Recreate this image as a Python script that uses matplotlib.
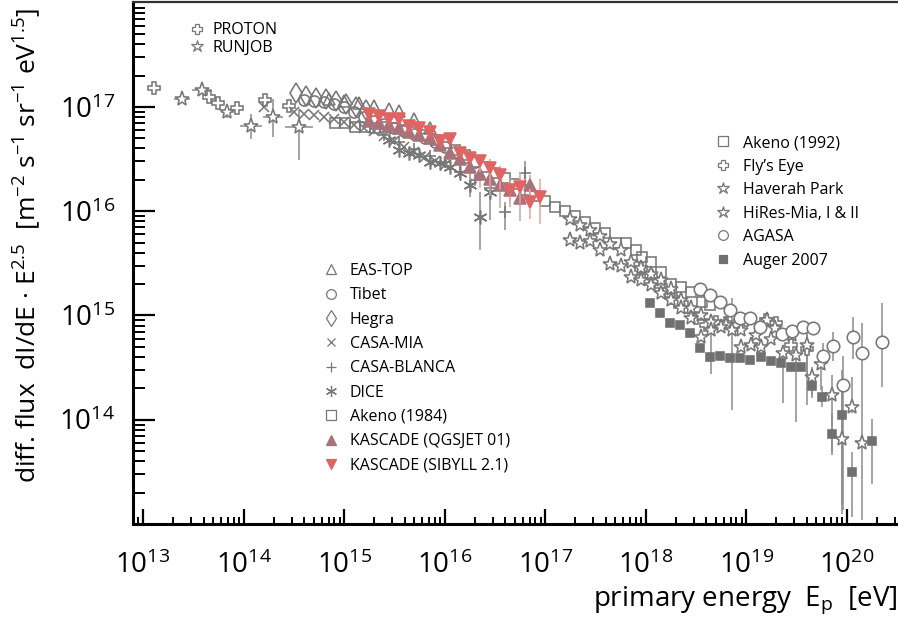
import numpy as np
import matplotlib
matplotlib.use("Agg")
import matplotlib.pyplot as plt
from matplotlib.lines import Line2D
from matplotlib.ticker import LogLocator, NullFormatter

plt.rcParams["font.family"] = ["Open Sans", "DejaVu Sans"]
plt.rcParams["mathtext.fontset"] = "custom"
plt.rcParams["mathtext.rm"] = "Open Sans"
plt.rcParams["mathtext.it"] = "Open Sans:italic"

# all values as log10(E / eV) and log10(flux * E^2.5); errors in decades
proton_lgE = [13.11, 13.66, 13.75, 13.93, 14.21, 14.45]
proton_lgF = [17.18, 17.10, 17.04, 16.99, 17.07, 17.01]

runjob_lgE = [13.39, 13.59, 13.84, 14.07, 14.29, 14.55]
runjob_lgF = [17.08, 17.16, 16.95, 16.82, 16.90, 16.81]
runjob_dn = [0.03, 0.03, 0.06, 0.13, 0.19, 0.32]
runjob_up = [0.03, 0.03, 0.05, 0.11, 0.18, 0.16]
runjob_dx = [0.08, 0.10, 0.06, 0.11, 0.10, 0.14]

eastop_lgE = [14.85, 15.0, 15.15, 15.3, 15.45, 15.55, 15.7, 15.85]
eastop_lgF = [17.08, 17.06, 17.04, 17.01, 16.98, 16.96, 16.88, 16.80]

tibet_lgE = [14.6, 14.7, 14.8, 14.9, 15.0, 15.1, 15.2, 15.3, 15.4,
             15.5, 15.6, 15.7, 15.8, 15.9, 16.0, 16.1, 16.2, 16.3]
tibet_lgF = [17.07, 17.06, 17.05, 17.03, 17.00, 16.95, 16.90, 16.87, 16.84,
             16.80, 16.77, 16.74, 16.70, 16.66, 16.62, 16.57, 16.52, 16.47]

hegra_lgE = [14.52, 14.62, 14.72, 14.82, 14.92, 15.02, 15.12, 15.22]
hegra_lgF = [17.13, 17.11, 17.09, 17.08, 17.06, 17.03, 17.00, 16.97]

casamia_lgE = [14.2, 14.5, 14.6, 14.7, 14.8, 14.9, 15.0, 15.1, 15.2,
               15.3, 15.4, 15.5, 15.6, 15.7, 15.8, 15.9, 16.0]
casamia_lgF = [17.0, 16.95, 16.93, 16.92, 16.90, 16.88, 16.86, 16.83, 16.80,
               16.77, 16.72, 16.67, 16.62, 16.57, 16.52, 16.48, 16.44]

casablanca_lgE = [15.4, 15.55, 15.7, 15.85, 16.0, 16.15, 16.3, 16.45, 16.6, 16.8]
casablanca_lgF = [16.73, 16.66, 16.60, 16.53, 16.47, 16.38, 16.30, 16.22, 15.99, 16.37]
casablanca_dn = [0, 0, 0, 0, 0, 0, 0, 0.06, 0.17, 0.26]
casablanca_up = [0, 0, 0, 0, 0, 0, 0, 0.06, 0.10, 0.11]

dice_lgE = [15.45, 15.55, 15.65, 15.75, 15.85, 15.95, 16.05, 16.15, 16.25, 16.35, 16.45]
dice_lgF = [16.68, 16.59, 16.56, 16.54, 16.47, 16.46, 16.42, 16.37, 16.25, 15.94, 16.18]
dice_dn = [0, 0, 0, 0, 0, 0, 0, 0, 0.11, 0.31, 0.26]
dice_up = [0, 0, 0, 0, 0, 0, 0, 0, 0.11, 0.24, 0.12]

akeno84_lgE = [14.91, 15.01, 15.11, 15.21, 15.31, 15.41, 15.51, 15.61, 15.71, 15.81, 15.91,
               16.01, 16.10, 16.20, 16.30, 16.40, 16.50, 16.60, 16.70, 16.80, 16.90, 17.00]
akeno84_lgF = [16.85, 16.85, 16.81, 16.81, 16.80, 16.81, 16.80, 16.78, 16.76, 16.73, 16.68,
               16.65, 16.59, 16.54, 16.47, 16.42, 16.37, 16.32, 16.26, 16.20, 16.15, 16.10]

kq_lgE = [15.25, 15.35, 15.45, 15.55, 15.65, 15.75, 15.85, 15.95, 16.05,
          16.15, 16.25, 16.35, 16.45, 16.55, 16.65, 16.75, 16.85]
kq_lgF = [16.87, 16.85, 16.83, 16.80, 16.76, 16.73, 16.70, 16.64, 16.56,
          16.50, 16.42, 16.36, 16.31, 16.25, 16.20, 16.13, 16.25]
kq_dn = [0, 0, 0, 0, 0, 0, 0, 0, 0.05, 0.07, 0.12, 0.14, 0.16, 0.22, 0.16, 0.22, 0.14]
kq_up = [0, 0, 0, 0, 0, 0, 0, 0, 0.05, 0.06, 0.08, 0.10, 0.12, 0.18, 0.12, 0.14, 0.10]

ks_lgE = [15.25, 15.35, 15.45, 15.55, 15.65, 15.75, 15.85, 15.95, 16.05,
          16.15, 16.25, 16.35, 16.45, 16.55, 16.65, 16.75, 16.85, 16.95]
ks_lgF = [16.93, 16.91, 16.88, 16.88, 16.82, 16.80, 16.76, 16.67, 16.69,
          16.56, 16.51, 16.48, 16.41, 16.35, 16.20, 16.23, 16.09, 16.14]
ks_dn = [0, 0, 0, 0, 0, 0, 0, 0, 0, 0.04, 0.06, 0.10, 0.17, 0.15, 0.10, 0.16, 0.16, 0.26]
ks_up = [0, 0, 0, 0, 0, 0, 0, 0, 0, 0.04, 0.05, 0.06, 0.09, 0.08, 0.08, 0.15, 0.12, 0.17]

akeno92_lgE = [17.10, 17.20, 17.30, 17.40, 17.50, 17.60, 17.70, 17.80, 17.90, 17.96,
               18.05, 18.15, 18.25, 18.35, 18.45, 18.56, 18.64]
akeno92_lgF = [16.04, 16.00, 15.95, 15.90, 15.84, 15.79, 15.70, 15.70, 15.63, 15.56,
               15.51, 15.42, 15.30, 15.27, 15.23, 15.13, 15.10]

flyseye_lgE = [17.95, 18.05, 18.15, 18.25, 18.3, 18.4, 18.5, 18.6, 18.7, 18.8,
               18.9, 19.0, 19.2, 19.3, 19.45, 19.6]
flyseye_lgF = [15.45, 15.38, 15.28, 15.20, 15.13, 15.08, 14.98, 14.91, 14.94, 14.93,
               14.91, 14.96, 14.96, 14.93, 14.72, 14.68]
flyseye_dn = [0] * 15 + [0.54]
flyseye_up = [0] * 15 + [0.25]

haverah_lgE = [17.25, 17.35, 17.45, 17.55, 17.65, 17.75, 17.85, 17.95, 18.05, 18.15,
               18.25, 18.35, 18.45, 18.55, 18.65, 18.8, 18.95, 19.1, 19.21, 19.29,
               19.46, 19.6, 19.74, 19.95]
haverah_lgF = [15.93, 15.87, 15.82, 15.76, 15.69, 15.63, 15.51, 15.46, 15.40, 15.34,
               15.25, 15.15, 15.07, 15.00, 14.94, 14.91, 14.86, 14.81, 14.96, 14.88,
               14.81, 14.72, 14.53, 13.82]
haverah_dn = [0] * 21 + [0.30, 0.24, 0.72]
haverah_up = [0] * 21 + [0.10, 0.14, 0.56]

hires_lgE = [17.25, 17.35, 17.45, 17.55, 17.65, 17.75, 17.85, 17.95, 18.05, 18.15,
             18.25, 18.35, 18.45, 18.55, 18.65, 18.75, 18.86, 18.95, 19.05, 19.15,
             19.25, 19.37, 19.5, 19.65, 19.85, 20.05, 20.15]
hires_lgF = [15.72, 15.70, 15.71, 15.63, 15.49, 15.47, 15.37, 15.34, 15.29, 15.22,
             15.15, 15.07, 14.98, 14.79, 14.86, 14.89, 14.86, 14.70, 14.72, 14.70,
             14.77, 14.64, 14.62, 14.41, 14.24, 14.12, 13.78]
hires_dn = [0] * 14 + [0.42, 0, 0.77, 0, 0, 0, 0, 0.48, 0.64, 0.20, 0.55, 0.06, 0]
hires_up = [0] * 14 + [0, 0, 0.31, 0, 0, 0, 0, 0.05, 0.11, 0.10, 0.19, 0.29, 0]

agasa_lgE = [18.54, 18.64, 18.74, 18.84, 18.94, 19.04, 19.14, 19.36, 19.46, 19.56,
             19.66, 19.76, 19.86, 19.96, 20.06, 20.15, 20.35]
agasa_lgF = [15.25, 15.20, 15.13, 15.05, 14.98, 14.98, 14.89, 14.82, 14.85, 14.89,
             14.88, 14.61, 14.71, 14.33, 14.79, 14.64, 14.75]
agasa_dn = [0] * 11 + [0.13, 0.15, 1.2, 0.21, 1.6, 0.44]
agasa_up = [0] * 11 + [0.13, 0.13, 0.28, 0.20, 0.29, 0.37]

auger_lgE = [18.04, 18.14, 18.24, 18.34, 18.44, 18.54, 18.64, 18.74, 18.84, 18.94,
             19.04, 19.15, 19.25, 19.35, 19.45, 19.55, 19.65, 19.75, 19.85, 19.95,
             20.05, 20.25]
auger_lgF = [15.12, 15.02, 14.93, 14.91, 14.83, 14.69, 14.60, 14.61, 14.59, 14.59,
             14.57, 14.60, 14.56, 14.54, 14.51, 14.51, 14.32, 14.22, 13.86, 14.05,
             13.50, 13.80]
auger_dn = [0] * 16 + [0.08, 0.10, 0.20, 0.86, 0.43, 0.42]
auger_up = [0] * 16 + [0.08, 0.10, 0.20, 0.43, 0.19, 0.21]

decade_ticks = [1e13, 1e14, 1e15, 1e16, 1e17, 1e18, 1e19, 1e20]
flux_ticks = [1e14, 1e15, 1e16, 1e17]

GREY = "#777777"
BAR = "#8c8c8c"
RED = "#e06464"
MAUVE = "#a8727a"
DARK = "#707070"

fig = plt.figure(figsize=(8.98, 6.23), dpi=100)
ax = fig.add_axes([133 / 898, 1 - 524 / 623, 765 / 898, 522 / 623])
ax.set_xscale("log")
ax.set_yscale("log")


def draw(lgE, lgF, marker, ms, face="none", color=GREY, dn=None, up=None,
         dx=None, bar=BAR, mew=1.15, z=3):
    lgE = np.asarray(lgE, float)
    lgF = np.asarray(lgF, float)
    E, F = 10 ** lgE, 10 ** lgF
    yerr = xerr = None
    if dn is not None:
        yerr = [F - 10 ** (lgF - np.asarray(dn)), 10 ** (lgF + np.asarray(up)) - F]
    if dx is not None:
        dx = np.asarray(dx)
        xerr = [E - 10 ** (lgE - dx), 10 ** (lgE + dx) - E]
    if yerr is not None or xerr is not None:
        ax.errorbar(E, F, yerr=yerr, xerr=xerr, fmt="none", ecolor=bar,
                    elinewidth=1.1, capsize=0, zorder=z - 1)
    ax.plot(E, F, ls="none", marker=marker, ms=ms, mfc=face, mec=color,
            mew=mew, zorder=z)


draw(proton_lgE, proton_lgF, "P", 9, face="white")
draw(runjob_lgE, runjob_lgF, "*", 11, face="white", dn=runjob_dn, up=runjob_up, dx=runjob_dx)
draw(hegra_lgE, hegra_lgF, "d", 10)
draw(eastop_lgE, eastop_lgF, "^", 8)
draw(tibet_lgE, tibet_lgF, "o", 8)
draw(casamia_lgE, casamia_lgF, "x", 7)
draw(casablanca_lgE, casablanca_lgF, "+", 9, dn=casablanca_dn, up=casablanca_up)
draw(dice_lgE, dice_lgF, (6, 2, 0), 10, dn=dice_dn, up=dice_up)
draw(akeno84_lgE, akeno84_lgF, "s", 7.5)
draw(kq_lgE, kq_lgF, "^", 9, face=MAUVE, color=MAUVE, dn=kq_dn, up=kq_up,
     bar="#c8a4a9", z=5)
draw(ks_lgE, ks_lgF, "v", 9, face=RED, color=RED, dn=ks_dn, up=ks_up,
     bar="#eba1a1", z=6)
draw(akeno92_lgE, akeno92_lgF, "s", 7.5)
draw(flyseye_lgE, flyseye_lgF, "P", 9, face="white", dn=flyseye_dn, up=flyseye_up)
draw(haverah_lgE, haverah_lgF, "*", 11, face="white", dn=haverah_dn, up=haverah_up)
draw(hires_lgE, hires_lgF, "*", 11, face="white", dn=hires_dn, up=hires_up)
draw(agasa_lgE, agasa_lgF, "o", 9, face="white", dn=agasa_dn, up=agasa_up)
draw(auger_lgE, auger_lgF, "s", 5.5, face=DARK, color=DARK,
     dn=auger_dn, up=auger_up)

ax.set_xlim(10 ** 12.90, 10 ** 20.51)
ax.set_ylim(1e13, 10 ** 18.007)

# axis frame and ticks
for side in ("left", "bottom"):
    ax.spines[side].set_linewidth(2.2)
ax.spines["top"].set_linewidth(1.6)
ax.spines["top"].set_color("#333333")
ax.spines["right"].set_visible(False)

ax.set_xticks(decade_ticks)
ax.set_yticks(flux_ticks)
ax.xaxis.set_minor_locator(LogLocator(base=10, subs=np.arange(2, 10), numticks=20))
ax.yaxis.set_minor_locator(LogLocator(base=10, subs=np.arange(2, 10), numticks=20))
ax.xaxis.set_minor_formatter(NullFormatter())
ax.yaxis.set_minor_formatter(NullFormatter())
ax.tick_params(axis="x", which="major", direction="in", length=11, width=1.6,
               pad=20, labelsize=20, top=False)
ax.tick_params(axis="x", which="minor", direction="in", length=5, width=1.4, top=False)
ax.tick_params(axis="y", which="major", direction="in", length=16, width=1.6,
               pad=13, labelsize=20, right=False)
ax.tick_params(axis="y", which="minor", direction="in", length=8.5, width=1.4, right=False)

ax.set_ylabel(r"diff. flux  dI/dE · E$^{2.5}$  [m$^{-2}$ s$^{-1}$ sr$^{-1}$ eV$^{1.5}$]",
              fontsize=19)
ax.yaxis.set_label_coords(-0.117, 0.534)
ax.set_xlabel(r"primary energy  E$_{\rm p}$  [eV]", fontsize=20, loc="right", labelpad=3)


def handle(marker, ms, face="none", color=GREY):
    return Line2D([], [], ls="none", marker=marker, ms=ms, mfc=face, mec=color, mew=0.9)


leg_kw = dict(frameon=False, fontsize=11.5, handlelength=1.0, borderpad=0,
              borderaxespad=0, bbox_transform=fig.transFigure, loc="upper left")

leg1 = ax.legend([handle("P", 7), handle("*", 9)], ["PROTON", "RUNJOB"],
                 bbox_to_anchor=(189 / 898, 1 - 22.5 / 623), labelspacing=0.08,
                 handletextpad=0.5, **leg_kw)
ax.add_artist(leg1)

leg2 = ax.legend(
    [handle("^", 7), handle("o", 7), handle("d", 8), handle("x", 6), handle("+", 7),
     handle((6, 2, 0), 8), handle("s", 7), handle("^", 7, MAUVE, MAUVE),
     handle("v", 7, RED, RED)],
    ["EAS-TOP", "Tibet", "Hegra", "CASA-MIA", "CASA-BLANCA", "DICE",
     "Akeno (1984)", "KASCADE (QGSJET 01)", "KASCADE (SIBYLL 2.1)"],
    bbox_to_anchor=(323 / 898, 1 - 263 / 623), labelspacing=0.52,
    handletextpad=0.69, **leg_kw)
ax.add_artist(leg2)

leg3 = ax.legend(
    [handle("s", 7), handle("P", 7), handle("*", 9), handle("*", 9), handle("o", 7),
     handle("s", 6, DARK, DARK)],
    ["Akeno (1992)", "Fly’s Eye", "Haverah Park", "HiRes-Mia, I & II", "AGASA",
     "Auger 2007"],
    bbox_to_anchor=(715 / 898, 1 - 135 / 623), labelspacing=0.47,
    handletextpad=0.75, **leg_kw)

fig.savefig("out.png", dpi=100)
